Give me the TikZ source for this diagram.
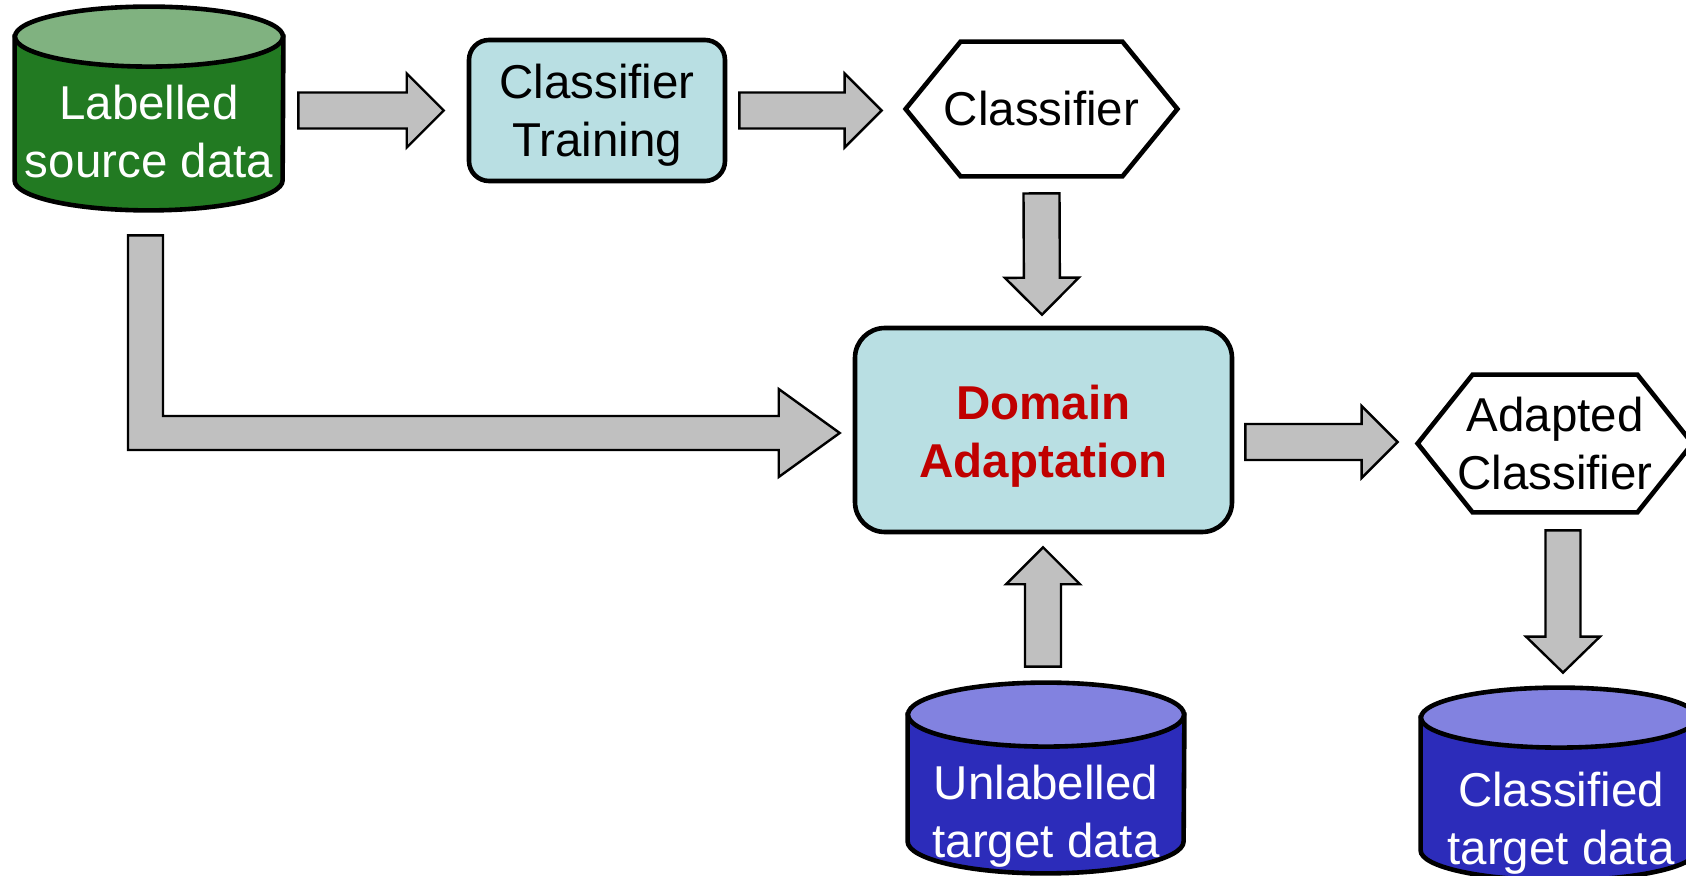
\documentclass[tikz,border=0pt]{standalone}
\usepackage{fontspec}
\setmainfont{Liberation Sans}
\usetikzlibrary{calc}

\definecolor{srcbody}{RGB}{34,122,34}
\definecolor{srctop}{RGB}{128,178,128}
\definecolor{tgtbody}{RGB}{44,44,186}
\definecolor{tgttop}{RGB}{130,130,224}
\definecolor{boxcyan}{RGB}{185,223,227}
\definecolor{arrowgray}{RGB}{192,192,192}
\definecolor{darkred}{RGB}{192,0,0}

% block arrow: start, tip, shaft half width, head half width, head length (pt)
\newcommand{\fatarrow}[5]{%
  \draw[fatarrow] let \p1=(#1), \p2=(#2),
      \n1={veclen(\x2-\x1,\y2-\y1)}, \n2={atan2(\y2-\y1,\x2-\x1)} in
    [shift={(\p2)}, rotate=\n2]
    ({-\n1},{-#3 pt}) -- ({-#5 pt},{-#3 pt}) -- ({-#5 pt},{-#4 pt}) -- (0pt,0pt)
    -- ({-#5 pt},{#4 pt}) -- ({-#5 pt},{#3 pt}) -- ({-\n1},{#3 pt}) -- cycle;
}
% data drum round a frame node: name, body colour, top colour, x radius, y radius
\newcommand{\drum}[5]{%
  \draw[shapeline, fill=#2] ($(#1.north west)+(0,#5)$) -- ($(#1.south west)+(0,-#5)$)
    arc[start angle=180, end angle=0, x radius=#4, y radius=#5]
    -- ($(#1.north east)+(0,#5)$) -- cycle;
  \draw[shapeline, fill=#3] ($(#1.north)+(0,#5)$) ellipse[x radius=#4, y radius=#5];
}
% hexagon round a frame node: name, indent
\newcommand{\hexa}[2]{%
  \draw[shapeline] (#1.west) -- ($(#1.north west)+(#2,0)$) -- ($(#1.north east)+(-#2,0)$)
    -- (#1.east) -- ($(#1.south east)+(-#2,0)$) -- ($(#1.south west)+(#2,0)$) -- cycle;
}

\begin{document}
\begin{tikzpicture}[x=0.5pt,y=-0.5pt,
    every node/.style={font=\fontsize{23.75}{29}\selectfont, align=center, inner sep=0pt},
    every label/.style={font=\fontsize{23.75}{29}\selectfont, align=center, inner sep=0pt},
    shell/.style={minimum width=#1},
    shapeline/.style={draw=black, line width=2.3pt},
    roundbox/.style={shapeline, fill=boxcyan, rounded corners=10pt},
    fatarrow/.style={draw=black, line width=1.2pt, fill=arrowgray}]
  \useasboundingbox (0,0) rectangle (1686,876);

  % sources
  \node[shell=134pt, minimum height=101.5pt] (src) at (149,108.5) {};
  \drum{src}{srcbody}{srctop}{134}{30}
  \node[text=white] (srctext) at (149,132) {Labelled\\source data};

  \node[roundbox, minimum width=128pt, minimum height=70.5pt,
    label={[yshift=-2.5pt]center:Classifier\\Training}] (train) at (597,110.5) {};

  \node[shell=135.5pt, minimum height=67pt] (cls) at (1041.5,109) {Classifier};
  \hexa{cls}{55}

  \node[roundbox, rounded corners=15pt, minimum width=188.5pt, minimum height=102pt,
    label={[yshift=-3pt, text=darkred, font=\fontsize{23.75}{29}\selectfont\bfseries]center:Domain\\Adaptation}]
    (da) at (1043.5,430) {};

  \node[shell=137pt, minimum height=68.5pt] (adp) at (1555,443.5) {Adapted\\Classifier};
  \hexa{adp}{55}

  % targets
  \node[shell=138pt, minimum height=95pt] (tgt) at (1046,778) {};
  \drum{tgt}{tgtbody}{tgttop}{138}{32}
  \node[text=white] (tgttext) at (1046,816) {Unlabelled\\target data};

  \node[shell=138pt, minimum height=96pt] (out) at (1559,784) {};
  \drum{out}{tgtbody}{tgttop}{138}{30}
  \node[text=white] (outtext) at (1561,823) {Classified\\target data};

  % arrows
  \fatarrow{$(src.east)+(15,2)$}{$(train.west)+(-23,0)$}{9}{18.5}{18.5}
  \fatarrow{$(train.east)+(12,0)$}{$(cls.west)+(-24,1.5)$}{9}{18.5}{18.5}
  \fatarrow{$(cls.south)+(0,17)$}{$(da.north)+(-1.5,-11)$}{9}{18.5}{18.5}
  \fatarrow{$(da.east)+(11,12)$}{$(adp.west)+(-20,-1.5)$}{9}{18}{18}
  \fatarrow{$(tgt.north)+(-3,-16)$}{$(da.south)+(-0.5,13)$}{9}{18.5}{18.5}
  \fatarrow{$(adp.south)+(8,18)$}{$(out.north)+(4,-15)$}{8.75}{18.5}{18}

  \coordinate (ltop) at ($(src.south)+(-3.5,25)$);
  \coordinate (ltip) at ($(da.west)+(-13,3)$);
  \draw[fatarrow] ($(ltop)+(-17.5,0)$) -- ($(ltop)+(17.5,0)$) |- ($(ltip)+(-61,-17)$)
    -- ($(ltip)+(-61,-44)$) -- (ltip) -- ($(ltip)+(-61,44)$) -- ($(ltip)+(-61,17)$)
    -| ($(ltop)+(-17.5,0)$) -- cycle;
\end{tikzpicture}
\end{document}
